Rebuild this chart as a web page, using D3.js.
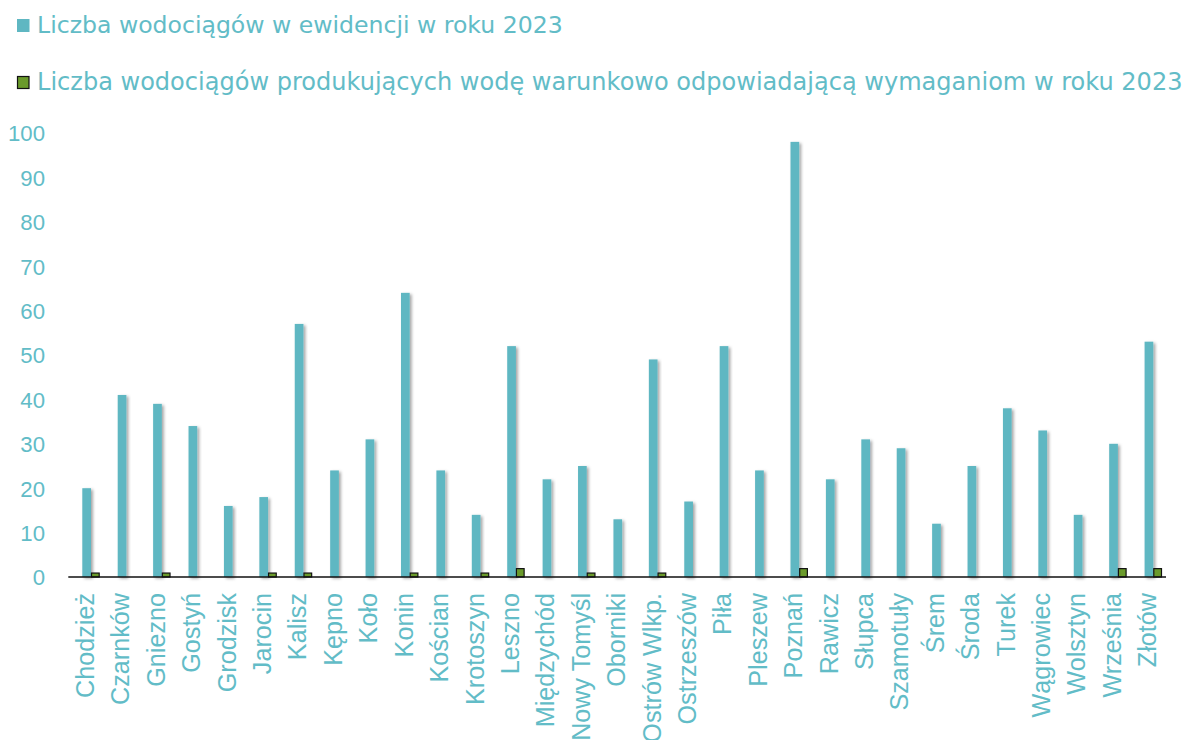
<!DOCTYPE html>
<html>
<head>
<meta charset="utf-8">
<script src="https://cdn.jsdelivr.net/npm/d3@7"></script>
<style>
  html, body { margin: 0; padding: 0; background: #ffffff; }
  svg { display: block; }
</style>
</head>
<body>
<svg id="chart" width="1187" height="740"></svg>
<script>
const categories = ["Chodzież","Czarnków","Gniezno","Gostyń","Grodzisk","Jarocin","Kalisz","Kępno","Koło","Konin","Kościan","Krotoszyn","Leszno","Międzychód","Nowy Tomyśl","Oborniki","Ostrów Wlkp.","Ostrzeszów","Piła","Pleszew","Poznań","Rawicz","Słupca","Szamotuły","Śrem","Środa","Turek","Wągrowiec","Wolsztyn","Września","Złotów"];
const totalCounts = [20,41,39,34,16,18,57,24,31,64,24,14,52,22,25,13,49,17,52,24,98,22,31,29,12,25,38,33,14,30,53];
const conditionalCounts = [1,0,1,0,0,1,1,0,0,1,0,1,2,0,1,0,1,0,0,0,2,0,0,0,0,0,0,0,0,2,2];
const yTicks = [0,10,20,30,40,50,60,70,80,90,100];
const seriesNames = ["Liczba wodociągów w ewidencji w roku 2023","Liczba wodociągów produkujących wodę warunkowo odpowiadającą wymaganiom w roku 2023"];

const FONT = "'Century Gothic','DejaVu Sans',sans-serif";
const TEXT_COLOR = "#62bcc7";
const TEAL = "#5fb7c2";
const GREEN = "#6a9a2b";

const svg = d3.select("#chart").style("font-family", FONT);

const defs = svg.append("defs");
const f = defs.append("filter").attr("id","shadow").attr("x","-50%").attr("y","-10%").attr("width","200%").attr("height","120%");
f.append("feDropShadow").attr("dx",2).attr("dy",1.5).attr("stdDeviation",1.6)
  .attr("flood-color","#000").attr("flood-opacity",0.35);

const plotLeft = 68.3, plotRight = 1166, baseY = 577, topY = 133;
const x0 = d3.scaleBand().domain(categories).range([plotLeft, plotRight]).padding(0);
const x1 = d3.scaleBand().domain(["total","cond"]).range([14, 31.4]).padding(0);
const y = d3.scaleLinear().domain([0,100]).range([baseY, topY]);

function fitSize(sel, target) {
  sel.style("font-size","100px");
  const w = sel.node().getComputedTextLength();
  const s = 100 * target / w;
  return s;
}

// Y axis
const yAxis = svg.append("g").attr("transform","translate(48,0)")
  .call(d3.axisLeft(y).tickValues(yTicks).tickSize(0).tickPadding(3));
yAxis.select(".domain").remove();
const ySize = fitSize(yAxis.selectAll("text").filter(d => d === 100), 37);
yAxis.selectAll("text").style("font-size", ySize + "px").style("fill", TEXT_COLOR).attr("dy","0.36em");

// Bars
const groups = svg.append("g").selectAll("g").data(categories).join("g")
  .attr("transform", d => `translate(${x0(d)},0)`);

groups.append("rect")
  .attr("x", x1("total"))
  .attr("width", x1.bandwidth())
  .attr("y", (d,i) => y(totalCounts[i]))
  .attr("height", (d,i) => y(0) - y(totalCounts[i]))
  .attr("fill", TEAL)
  .attr("filter","url(#shadow)");

groups.filter((d,i) => conditionalCounts[i] > 0).append("rect")
  .attr("x", x1("cond") + 0.5)
  .attr("width", x1.bandwidth() - 1)
  .attr("y", d => y(conditionalCounts[categories.indexOf(d)]) + 0.5)
  .attr("height", d => y(0) - y(conditionalCounts[categories.indexOf(d)]) - 0.5)
  .attr("fill", GREEN)
  .attr("stroke", "#111")
  .attr("stroke-width", 1.2);

// X axis line
svg.append("line").attr("x1", plotLeft).attr("x2", plotRight).attr("y1", baseY).attr("y2", baseY)
  .attr("stroke","#111").attr("stroke-width",1.6);

// X axis labels
const xAxis = svg.append("g").attr("transform",`translate(0,${baseY})`)
  .call(d3.axisBottom(x0).tickSize(0));
xAxis.select(".domain").remove();
const xText = xAxis.selectAll("text");
const xSize = fitSize(xText.filter(d => d === "Chodzież"), 105);
xText.style("font-size", xSize + "px").style("fill", TEXT_COLOR)
  .attr("transform","rotate(-90)")
  .attr("text-anchor","end")
  .attr("dy", null)
  .attr("x", -16)
  .attr("y", 8);

// Legend
const legend = svg.append("g");
const legY = [33, 90];
seriesNames.forEach((name, i) => {
  const t = legend.append("text").attr("x", 37).attr("y", legY[i]).text(name).style("fill", TEXT_COLOR);
  const target = i === 0 ? 526 : 1146;
  t.style("font-size", fitSize(t, target) + "px");
});
legend.append("rect").attr("x",17).attr("y",19).attr("width",12.5).attr("height",13).attr("fill",TEAL);
legend.append("rect").attr("x",17.5).attr("y",76.5).attr("width",11.5).attr("height",12).attr("fill",GREEN)
  .attr("stroke","#111").attr("stroke-width",1.2);
</script>
</body>
</html>
